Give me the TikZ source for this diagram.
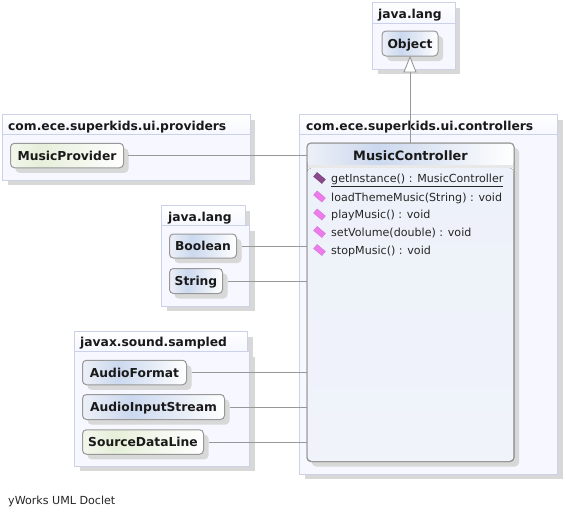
\documentclass[tikz,border=0pt]{standalone}
\usepackage{fontspec}
\setmainfont{DejaVu Sans}
\usetikzlibrary{shadows}

\definecolor{packline}{HTML}{CBD1E6}
\definecolor{packfill}{HTML}{F6F7FF}
\definecolor{shadowgray}{HTML}{D8D8D8}
\definecolor{classline}{HTML}{989898}
\definecolor{connline}{HTML}{989898}
\definecolor{methodpink}{HTML}{EC7CEC}
\definecolor{staticpurple}{HTML}{8A4A8A}
\definecolor{shadeblue}{HTML}{CBD8EE}
\definecolor{shadeleft}{HTML}{EDF0F7}
\definecolor{shadegreen}{HTML}{E6EFDA}
\definecolor{bodytop}{HTML}{EDF1F9}
\definecolor{bodybottom}{HTML}{F0F3FA}

\pgfdeclarehorizontalshading{classblue}{100bp}{color(0bp)=(shadeleft);
  color(25bp)=(shadeleft); color(42bp)=(shadeblue);
  color(75bp)=(white); color(100bp)=(white)}
\pgfdeclarehorizontalshading{classgreen}{100bp}{color(0bp)=(shadegreen!50!white);
  color(25bp)=(shadegreen!50!white); color(38bp)=(shadegreen);
  color(75bp)=(white); color(100bp)=(white)}

\tikzset{
  packbody/.style={draw=packline,fill=packfill,line width=0.9pt,
    drop shadow={shadow xshift=5pt,shadow yshift=-5pt,fill=shadowgray,opacity=1}},
  packhead/.style={draw=packline,top color=white,bottom color=packfill,line width=0.9pt,
    drop shadow={shadow xshift=5pt,shadow yshift=-5pt,fill=shadowgray,opacity=1}},
  packlabel/.style={anchor=west,inner sep=0pt,text height=11pt,text depth=2pt,
    font=\fontsize{12.3}{14}\selectfont\bfseries,text=black!90},
  classbox/.style={draw=classline,rounded corners=4pt,line width=1pt,inner sep=0pt,
    text height=11pt,text depth=2pt,
    font=\fontsize{12.3}{14}\selectfont\bfseries,text=black!90,
    drop shadow={shadow xshift=5pt,shadow yshift=-5pt,fill=shadowgray,opacity=1}},
  blueclass/.style={classbox,shading=classblue},
  greenclass/.style={classbox,shading=classgreen},
  conn/.style={draw=connline,line width=0.9pt},
  member/.style={anchor=west,inner sep=0pt,text height=8pt,text depth=2pt,
    font=\fontsize{11.1}{13}\selectfont,text=black!85},
  methodicon/.style={fill=methodpink,draw=methodpink!85!black,line width=0.2pt,
    minimum width=11pt,minimum height=5.5pt,inner sep=0pt,rotate=-40},
  staticicon/.style={methodicon,fill=staticpurple,draw=staticpurple!80!black}
}

\begin{document}
\begin{tikzpicture}[x=1pt,y=-1pt]
\useasboundingbox (0,0) rectangle (566,517);

% packages
\draw[packhead] (372.5,2.5) rectangle (455,23);
\draw[packbody] (372.5,23) rectangle (455,69);
\node[packlabel] (langtop) at (378,13.5) {java.lang};

\draw[packhead] (299.5,114.5) rectangle (557.5,134.5);
\draw[packbody] (299.5,134.5) rectangle (557.5,474);
\node[packlabel] (controllers) at (306,125.5) {com.ece.superkids.ui.controllers};

\draw[packhead] (2.5,114.5) rectangle (250,134.5);
\draw[packbody] (2.5,134.5) rectangle (250,180);
\node[packlabel] (providers) at (8,125.5) {com.ece.superkids.ui.providers};

\draw[packhead] (161.5,205.5) rectangle (245,225.5);
\draw[packbody] (161.5,225.5) rectangle (249.5,306);
\node[packlabel] (langleft) at (168,217) {java.lang};

\draw[packhead] (74.5,331.5) rectangle (247.5,351.5);
\draw[packbody] (74.5,351.5) rectangle (249.5,466);
\node[packlabel] (sampled) at (80,342) {javax.sound.sampled};

% the big class, with its title strip
\node[classbox,fill=white,minimum width=207pt,minimum height=318.5pt] (MusicController) at (410.5,302.3) {};
\fill[top color=bodytop,bottom color=bodybottom,rounded corners=4pt] (307.5,168) rectangle (513.5,461);
\shade[shading=classblue,rounded corners=4pt] (307.5,143.5) rectangle (513.5,166);
\fill[black!9] (307.5,165) rectangle (513.5,168);
\draw[classline,rounded corners=4pt,line width=1pt] (307,143) rectangle (514,461.6);
\node[inner sep=0pt,font=\fontsize{12.9}{15}\selectfont\bfseries,text=black!90] (title) at (410.5,155.5) {MusicController};

% connectors
\draw[conn] (410,72) -- (410,143);
\node[blueclass,minimum width=56pt,minimum height=25pt] (Object) at (410,43.5) {Object};
\draw[conn,fill=white] (410,57) -- (416,72) -- (404,72) -- cycle;

\node[greenclass,minimum width=113pt,minimum height=24.5pt] (MusicProvider) at (67,155.5) {MusicProvider};
\node[blueclass,minimum width=67pt,minimum height=24pt] (Boolean) at (203,246) {Boolean};
\node[blueclass,minimum width=53pt,minimum height=25pt] (String) at (196,281) {String};
\node[blueclass,minimum width=104pt,minimum height=24.5pt] (AudioFormat) at (134.5,372.5) {AudioFormat};
\node[blueclass,minimum width=142pt,minimum height=25pt] (AudioInputStream) at (153.5,407) {AudioInputStream};
\node[greenclass,minimum width=121pt,minimum height=24.5pt] (SourceDataLine) at (143,442) {SourceDataLine};

\draw[conn] (128,155.5) -- (MusicProvider.east -| MusicController.west);
\draw[conn] (241.5,246) -- (Boolean.east -| MusicController.west);
\draw[conn] (227.5,281) -- (String.east -| MusicController.west);
\draw[conn] (191.5,372.5) -- (AudioFormat.east -| MusicController.west);
\draw[conn] (229.5,407) -- (AudioInputStream.east -| MusicController.west);
\draw[conn] (208.5,442) -- (SourceDataLine.east -| MusicController.west);

% members
\node[staticicon] (icon1) at (319.5,178) {};
\node[methodicon] (icon2) at (319.5,196.5) {};
\node[methodicon] (icon3) at (319.5,214.5) {};
\node[methodicon] (icon4) at (319.5,232) {};
\node[methodicon] (icon5) at (319.5,250) {};
\node[member] (getInstance) at (331,179.7) {\underline{getInstance() : MusicController}};
\node[member] (loadTheme) at (331,198) {loadThemeMusic(String) : void};
\node[member] (playMusic) at (331,215.7) {playMusic() : void};
\node[member] (setVolume) at (331,233.7) {setVolume(double) : void};
\node[member] (stopMusic) at (331,251) {stopMusic() : void};

\node[member] (doclet) at (8,501) {yWorks UML Doclet};
\end{tikzpicture}
\end{document}
